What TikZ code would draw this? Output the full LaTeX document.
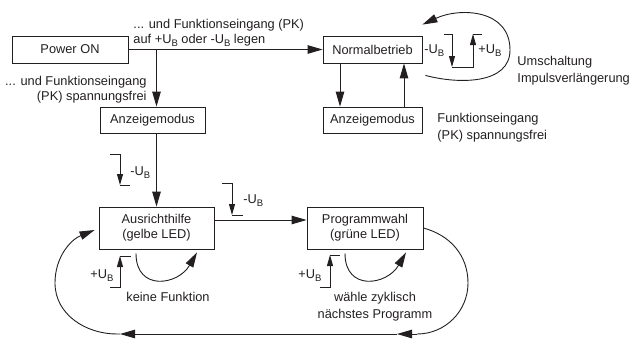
\documentclass[tikz,border=0pt]{standalone}
\usepackage{fontspec}
\setmainfont{Liberation Sans}
\usepackage{tikz}
\usetikzlibrary{arrows.meta}

\definecolor{ink}{RGB}{35,31,32}
\newcommand{\Ub}{U\raisebox{-3pt}{\fontsize{9.5}{10}\selectfont B}}

\begin{document}
\begin{tikzpicture}[x=1pt, y=-1pt, line width=0.9pt, color=ink,
    font=\fontsize{12.8}{16.5}\selectfont,
    box/.style={draw, line width=0.8pt, inner sep=0pt, align=center, font=\fontsize{12.8}{15}\selectfont},
    conn/.style={-{Triangle[length=15pt, width=8.5pt]}},
    pulse/.style={-{Triangle[length=11pt, width=6pt]}},
    lbl/.style={inner sep=0pt}]
    \useasboundingbox (0, 0) rectangle (632, 341);
    % boxes
    \node[box, minimum width=116, minimum height=27] (power) at (70, 49.5) {Power ON};
    \node[box, minimum width=99, minimum height=27] (normal) at (372.5, 49.5) {Normalbetrieb};
    \node[box, minimum width=105, minimum height=26] (anzeigeL) at (152.5, 120) {Anzeigemodus};
    \node[box, minimum width=99, minimum height=26] (anzeigeR) at (372.5, 120) {Anzeigemodus};
    \node[box, minimum width=115, minimum height=42] (ausricht) at (156.5, 228) {Ausrichthilfe\\(gelbe LED)};
    \node[box, minimum width=116, minimum height=42] (prog) at (365, 228) {Programmwahl\\(grüne LED)};

    % connectors
    \coordinate (split) at (ausricht.north |- power.east);
    \draw[conn] (power.east) -- (normal.west);
    \draw[conn] (split) -- (split |- anzeigeL.north);
    \draw[conn] (anzeigeL.south -| ausricht.north) -- (ausricht.north);
    \draw[conn] ([xshift=-32.5]normal.south) -- ([xshift=-32.5]anzeigeR.north);
    \draw[conn] ([xshift=31.5]anzeigeR.north) -- ([xshift=31.5]normal.south);
    \draw[conn] ([yshift=8]ausricht.east) -- ([yshift=8]prog.west);

    % loops
    \coordinate (umright) at (510, 50);
    \draw[conn] ([xshift=3, yshift=-12]normal.south east) to[out=-15, in=-90] (umright)
        to[out=90, in=25, looseness=1.15] ([yshift=11]normal.north east);
    \draw[conn] ([xshift=-20.5, yshift=-4]ausricht.south) to[out=-90, in=-120, looseness=1.6] ([xshift=40.5, yshift=-3]ausricht.south);
    \draw[conn] ([xshift=-20, yshift=-4]prog.south) to[out=-90, in=-120, looseness=1.6] ([xshift=41, yshift=-3]prog.south);

    \coordinate (farright) at (468, 283);
    \coordinate (botright) at (417, 334);
    \coordinate (arrowA) at (397, 334);
    \coordinate (arrowB) at (120, 334);
    \coordinate (botleft) at (117, 334);
    \coordinate (farleft) at (55, 283);
    \draw (prog.east) to[out=-15, in=90] (farright) to[out=-90, in=0] (botright);
    \draw[conn] (botright) -- (arrowA);
    \draw[conn] (arrowA) -- (arrowB);
    \draw[conn] (arrowB) -- (botleft) to[out=180, in=-90] (farleft)
        to[out=90, in=202] ([xshift=-4, yshift=-2]ausricht.west);

    % pulses
    \draw[pulse] (444, 34) -- (452, 34) -- (452, 67);
    \draw[pulse] (452, 67) -- (473, 67) -- (473, 34);
    \draw (473, 34) -- (482, 34);
    \node[lbl, anchor=base west] (ubTopL) at (424, 53) {-\Ub};
    \node[lbl, anchor=base west] (ubTopR) at (478, 53) {+\Ub};

    \draw[pulse] (110, 154) -- (120, 154) -- (120, 185);
    \draw (120, 185) -- (130, 185);
    \node[lbl, anchor=base west] (ubA) at (130, 175) {-\Ub};

    \draw[pulse] (222, 183) -- (232, 183) -- (232, 215);
    \draw (232, 215) -- (243, 215);
    \node[lbl, anchor=base west] (ubB) at (243, 203) {-\Ub};

    \draw[pulse] (110, 287) -- (120, 287) -- (120, 256);
    \draw (120, 256) -- (131, 256);
    \node[lbl, anchor=base west] (ubC) at (90, 278) {+\Ub};

    \draw[pulse] (320, 287) -- (330, 287) -- (330, 255);
    \draw (330, 255) -- (340, 255);
    \node[lbl, anchor=base west] (ubD) at (298, 278) {+\Ub};

    % texts
    \node[lbl, anchor=north west, align=left, font=\fontsize{12.8}{15}\selectfont] (txtLegen) at (133, 19)
        {... und Funktionseingang (PK)\\auf +\Ub{} oder -\Ub{} legen};
    \node[lbl, anchor=north east, align=right, font=\fontsize{12.8}{15}\selectfont] (txtFreiL) at (147, 76)
        {... und Funktionseingang\\(PK) spannungsfrei};
    \node[lbl, anchor=north west, align=left] (txtUmsch) at (517, 56) {Umschaltung\\Impulsverlängerung};
    \node[lbl, anchor=north west, align=left] (txtFreiR) at (437, 113) {Funktionseingang\\(PK) spannungsfrei};
    \node[lbl, anchor=north] (txtKeine) at (168, 292) {keine Funktion};
    \node[lbl, anchor=north, align=center] (txtZykl) at (375, 292) {wähle zyklisch\\nächstes Programm};
\end{tikzpicture}
\end{document}
